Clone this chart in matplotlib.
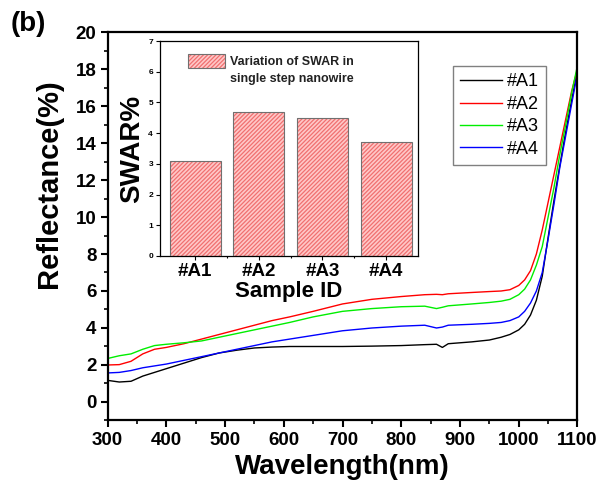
import numpy as np
import matplotlib
matplotlib.use("Agg")
import matplotlib.pyplot as plt
from matplotlib.ticker import MultipleLocator
from matplotlib.patches import Rectangle

plt.rcParams["font.family"] = ["Liberation Sans", "DejaVu Sans"]
plt.rcParams["hatch.linewidth"] = 0.9

# ── Data ──
wavelength = [300, 320, 340, 360, 380, 400, 430, 460, 490, 520, 550, 580, 610, 650,
              700, 750, 800, 840, 860, 870, 880, 920, 950, 970, 985, 1000, 1010, 1020,
              1030, 1040, 1050, 1060, 1070, 1080, 1090, 1100]

refl_A1 = [1.17, 1.08, 1.12, 1.40, 1.60, 1.80, 2.10, 2.40, 2.65, 2.80, 2.92, 2.97, 3.00, 3.00,
           3.00, 3.02, 3.05, 3.10, 3.12, 2.95, 3.15, 3.25, 3.35, 3.50, 3.65, 3.90, 4.20, 4.70,
           5.50, 6.80, 8.90, 10.9, 12.8, 14.6, 16.3, 17.9]
refl_A2 = [2.00, 2.02, 2.20, 2.60, 2.85, 2.95, 3.15, 3.40, 3.65, 3.90, 4.15, 4.40, 4.60, 4.90,
           5.30, 5.55, 5.70, 5.80, 5.82, 5.80, 5.85, 5.92, 5.97, 6.00, 6.07, 6.30, 6.60, 7.10,
           8.00, 9.30, 10.8, 12.3, 13.8, 15.3, 16.8, 18.0]
refl_A3 = [2.35, 2.50, 2.60, 2.85, 3.05, 3.12, 3.20, 3.30, 3.50, 3.70, 3.90, 4.10, 4.30, 4.60,
           4.90, 5.05, 5.15, 5.18, 5.05, 5.12, 5.20, 5.30, 5.38, 5.45, 5.55, 5.80, 6.10, 6.60,
           7.40, 8.40, 10.0, 11.6, 13.4, 15.0, 16.7, 18.2]
refl_A4 = [1.57, 1.60, 1.70, 1.85, 1.95, 2.05, 2.25, 2.45, 2.65, 2.85, 3.05, 3.25, 3.40, 3.60,
           3.85, 4.00, 4.10, 4.15, 4.00, 4.05, 4.15, 4.20, 4.25, 4.30, 4.40, 4.60, 4.90, 5.35,
           6.00, 7.00, 8.80, 10.7, 12.7, 14.4, 16.1, 17.8]

samples = ["#A1", "#A2", "#A3", "#A4"]
swar = [3.1, 4.7, 4.5, 3.7]

BAR_FACE = "#ffc8c8"
BAR_HATCH = "#f07070"

fig = plt.figure(figsize=(6.02, 4.94), dpi=100)

# ── Main axes: reflectance spectra ──
ax = fig.add_axes([0.1786, 0.1488, 0.7807, 0.7864])
ax.plot(wavelength, refl_A1, color="black", lw=1.0, label="#A1")
ax.plot(wavelength, refl_A2, color="#ff0000", lw=1.0, label="#A2")
ax.plot(wavelength, refl_A3, color="#00ee00", lw=1.0, label="#A3")
ax.plot(wavelength, refl_A4, color="#0000ff", lw=1.0, label="#A4")

ax.set_xlim(300, 1100)
ax.set_ylim(-1, 20)
ax.xaxis.set_major_locator(MultipleLocator(100))
ax.xaxis.set_minor_locator(MultipleLocator(50))
ax.yaxis.set_major_locator(MultipleLocator(2))
ax.yaxis.set_minor_locator(MultipleLocator(1))
ax.tick_params(which="major", direction="out", length=5, width=1.5, labelsize=13.5, pad=3)
ax.tick_params(which="minor", direction="out", length=3, width=1.2)
for lbl in ax.get_xticklabels() + ax.get_yticklabels():
    lbl.set_fontweight("bold")
for s in ax.spines.values():
    s.set_linewidth(1.6)

ax.set_xlabel("Wavelength(nm)", fontsize=20, fontweight="bold", labelpad=4)
ax.set_ylabel("Reflectance(%)", fontsize=21, fontweight="bold")
# label sits above the axis centre in the original
ax.yaxis.set_label_coords(-0.095, 0.611)

leg = ax.legend(loc="upper left", bbox_to_anchor=(0.735, 0.912), borderaxespad=0,
                fontsize=13, handlelength=2.3, handletextpad=0.3, labelspacing=0.3,
                borderpad=0.4, fancybox=False, framealpha=1)
leg.get_frame().set_edgecolor("#808080")
leg.get_frame().set_linewidth(1.0)

fig.text(0.018, 0.952, "(b)", fontsize=20, fontweight="bold", va="center")

# ── Inset: SWAR bar chart ──
ins = fig.add_axes([0.2658, 0.4818, 0.4286, 0.4352])
pos = np.arange(1, len(samples) + 1)
ins.bar(pos, swar, width=0.8, color=BAR_FACE, edgecolor=BAR_HATCH, hatch="////////",
        linewidth=0, zorder=2)
ins.bar(pos, swar, width=0.8, color="none", edgecolor="#707070", linewidth=0.8, zorder=3)

ins.set_xlim(0.45, 4.5)
ins.set_ylim(0, 7)
ins.set_xticks(pos)
ins.set_xticklabels(samples, fontsize=13.5, fontweight="bold")
ins.set_xticks([1.5, 2.5, 3.5], minor=True)
ins.yaxis.set_major_locator(MultipleLocator(1))
ins.tick_params(axis="y", which="major", direction="out", length=3, width=0.8, labelsize=6, pad=2)
ins.tick_params(axis="x", which="major", direction="out", length=3, width=0.8, pad=2)
ins.tick_params(axis="x", which="minor", direction="out", length=1.5, width=0.8)
for lbl in ins.get_yticklabels():
    lbl.set_fontweight("bold")
for s in ins.spines.values():
    s.set_linewidth(0.9)

ins.set_xlabel("Sample ID", fontsize=16, fontweight="bold", labelpad=1)
ins.set_ylabel("SWAR%", fontsize=20, fontweight="bold", labelpad=2)

# legend key: patch lined up with the first text line, as in the original
ins.add_patch(Rectangle((0.109, 0.874), 0.143, 0.066, transform=ins.transAxes,
                        facecolor=BAR_FACE, edgecolor=BAR_HATCH, hatch="////////",
                        linewidth=0, zorder=4))
ins.add_patch(Rectangle((0.109, 0.874), 0.143, 0.066, transform=ins.transAxes,
                        facecolor="none", edgecolor="#707070", linewidth=0.8, zorder=5))
ins.text(0.271, 0.863, "Variation of SWAR in\nsingle step nanowire", transform=ins.transAxes,
         fontsize=9, fontweight="bold", color="#222222", va="center", ha="left",
         linespacing=1.55)

fig.savefig("out.png", dpi=100)
plt.close(fig)
